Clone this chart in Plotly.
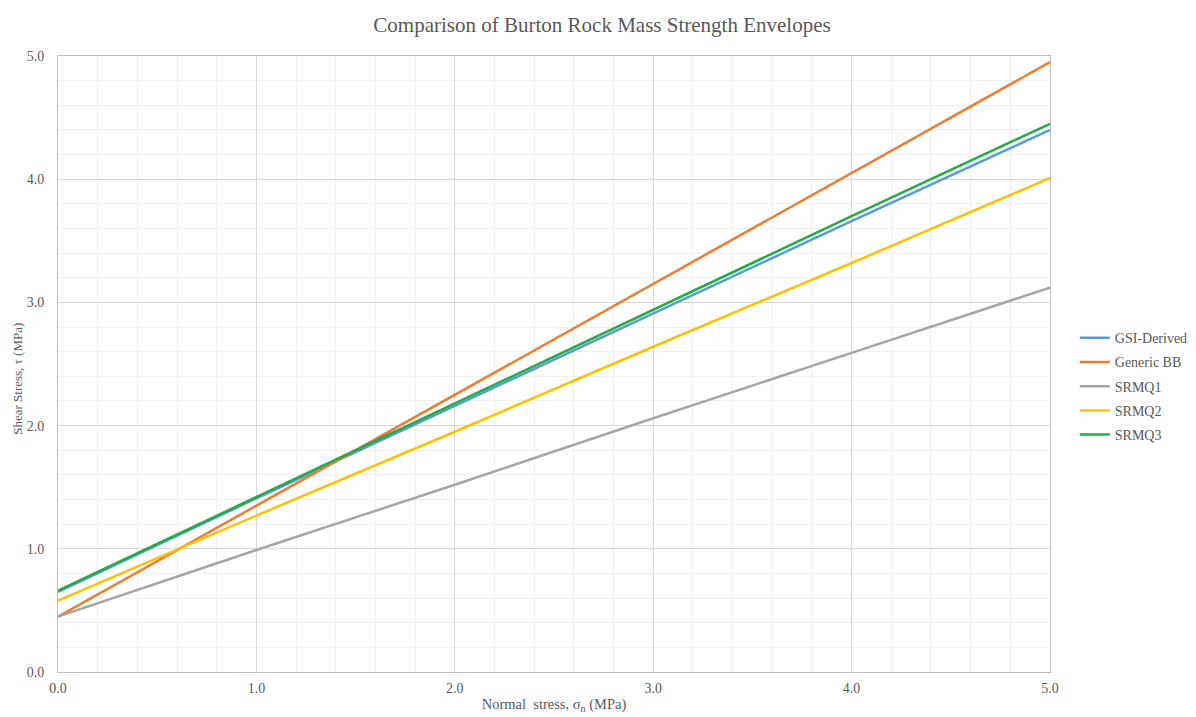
import plotly.graph_objects as go

normal_stress = [0.0, 1.0, 2.0, 3.0, 4.0, 5.0]
gsi_derived = [0.65, 1.41, 2.16, 2.91, 3.66, 4.40]
generic_bb = [0.45, 1.35, 2.25, 3.15, 4.05, 4.95]
srmq1 = [0.45, 0.99, 1.52, 2.06, 2.59, 3.12]
srmq2 = [0.58, 1.27, 1.95, 2.64, 3.32, 4.01]
srmq3 = [0.66, 1.42, 2.18, 2.94, 3.70, 4.45]

series = [
    ("GSI-Derived", gsi_derived, "#5B9BD5"),
    ("Generic BB", generic_bb, "#ED7D31"),
    ("SRMQ1", srmq1, "#A5A5A5"),
    ("SRMQ2", srmq2, "#FFC000"),
    ("SRMQ3", srmq3, "#22AA4B"),
]

font_family = "Liberation Serif"
grey = "#595959"

fig = go.Figure()
for name, vals, color in series:
    fig.add_trace(go.Scatter(x=normal_stress, y=vals, mode="lines", name=name,
                             legendgroup=name,
                             line=dict(color=color, width=2.5)))

fig.update_layout(
    width=1188, height=709,
    paper_bgcolor="white", plot_bgcolor="white",
    margin=dict(l=50, r=146, t=48, b=45, autoexpand=False),
    title=dict(text="Comparison of Burton Rock Mass Strength Envelopes",
               x=0.5, xanchor="center", xref="container",
               y=0.976, yanchor="middle",
               font=dict(family=font_family, size=21, color=grey)),
    font=dict(family=font_family, size=13, color=grey),
    legend=dict(x=1.025, xanchor="left", y=0.464, yanchor="middle",
                font=dict(family=font_family, size=14, color=grey),
                tracegroupgap=3, itemwidth=30, bgcolor="rgba(0,0,0,0)"),
    xaxis=dict(range=[0, 5], dtick=1.0, tickformat=".1f",
               showgrid=True, gridcolor="#D9D9D9", gridwidth=1,
               minor=dict(dtick=0.2, showgrid=True, gridcolor="#F0F0F0", gridwidth=1),
               showline=True, linecolor="#BFBFBF", linewidth=1, mirror=True,
               zeroline=False, ticks="", ticklabelstandoff=3, automargin=False,
               tickfont=dict(family=font_family, size=14, color=grey),
               title=dict(text="Normal  stress, σ<sub>n</sub> (MPa)", standoff=4,
                          font=dict(family=font_family, size=14.5, color=grey))),
    yaxis=dict(range=[0, 5], dtick=1.0, tickformat=".1f",
               showgrid=True, gridcolor="#D9D9D9", gridwidth=1,
               minor=dict(dtick=0.2, showgrid=True, gridcolor="#F0F0F0", gridwidth=1),
               showline=True, linecolor="#BFBFBF", linewidth=1, mirror=True,
               zeroline=False, ticks="", ticklabelstandoff=10, automargin=False,
               tickfont=dict(family=font_family, size=14, color=grey)),
    annotations=[dict(text="Shear Stress, τ (MPa)", textangle=-90,
                      xref="paper", yref="paper", x=0, y=0.476,
                      xanchor="center", yanchor="middle", xshift=-40,
                      showarrow=False,
                      font=dict(family=font_family, size=13, color=grey))],
)

fig.write_html("out.html")
